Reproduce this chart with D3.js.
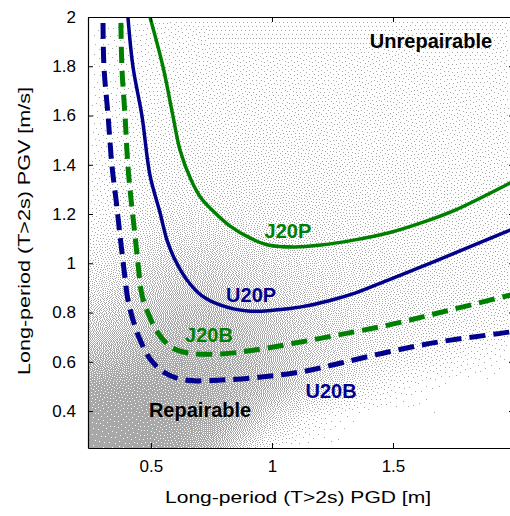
<!DOCTYPE html>
<html>
<head>
<meta charset="utf-8">
<script src="https://cdn.jsdelivr.net/npm/d3@7"></script>
<style>
  html, body { margin: 0; padding: 0; background: #fff; }
  svg { display: block; }
</style>
</head>
<body>
<svg id="chart" width="510" height="516"></svg>
<script>
// ---------------- DATA ----------------
// Fragility boundary curves: PGD [m] vs PGV [m/s]
const u20bX = [0.302, 0.306, 0.323, 0.339, 0.356, 0.372, 0.389, 0.405, 0.426, 0.455, 0.5, 0.558, 0.641, 0.79, 0.955, 1.12, 1.285, 1.48, 1.686, 1.984, 2.0];
const u20bY = [1.976, 1.797, 1.598, 1.395, 1.257, 1.115, 0.973, 0.851, 0.770, 0.689, 0.607, 0.555, 0.526, 0.526, 0.538, 0.559, 0.595, 0.64, 0.68, 0.721, 0.724];

const j20bX = [0.376, 0.38, 0.393, 0.405, 0.418, 0.434, 0.447, 0.463, 0.488, 0.529, 0.583, 0.653, 0.79, 0.93, 1.095, 1.273, 1.48, 1.686, 1.984, 2.0];
const j20bY = [1.976, 1.797, 1.598, 1.395, 1.257, 1.115, 0.993, 0.871, 0.798, 0.717, 0.66, 0.636, 0.632, 0.648, 0.676, 0.709, 0.749, 0.798, 0.871, 0.875];

const u20pX = [0.405, 0.426, 0.463, 0.496, 0.538, 0.566, 0.6, 0.649, 0.707, 0.785, 0.901, 1.013, 1.12, 1.232, 1.343, 1.48, 1.616, 1.757, 1.984, 2.0];
const u20pY = [2.0, 1.797, 1.598, 1.358, 1.204, 1.095, 1.013, 0.932, 0.871, 0.831, 0.806, 0.81, 0.823, 0.847, 0.879, 0.932, 0.985, 1.042, 1.135, 1.142];

const j20pX = [0.496, 0.55, 0.591, 0.62, 0.666, 0.707, 0.761, 0.827, 0.909, 0.984, 1.095, 1.203, 1.343, 1.48, 1.616, 1.757, 1.984, 2.0];
const j20pY = [2.0, 1.797, 1.598, 1.46, 1.338, 1.265, 1.208, 1.151, 1.103, 1.074, 1.066, 1.074, 1.095, 1.123, 1.164, 1.216, 1.326, 1.334];

const seriesNames = ["U20B", "J20B", "U20P", "J20P"];

// Ground-motion record cloud: estimated point density (0..1) on a grid
const densityX = [0.25, 0.375, 0.5, 0.625, 0.75, 0.875, 1.0, 1.125, 1.25, 1.375, 1.5, 1.625, 1.75, 1.875, 2.0];
const densityY = [2.0, 1.875, 1.75, 1.625, 1.5, 1.375, 1.25, 1.125, 1.0, 0.875, 0.75, 0.625, 0.5, 0.375, 0.25];
const density = [
  [.02, .03, .05, .06, .06, .06, .06, .06, .06, .06, .06, .06, .06, .06, .06],
  [.02, .03, .05, .06, .07, .07, .07, .07, .07, .07, .07, .06, .06, .06, .06],
  [.02, .03, .06, .07, .07, .07, .07, .07, .07, .07, .07, .07, .06, .06, .06],
  [.03, .04, .07, .08, .08, .08, .08, .08, .08, .08, .08, .07, .07, .07, .06],
  [.03, .05, .08, .09, .09, .09, .09, .09, .08, .08, .08, .08, .07, .07, .07],
  [.04, .06, .10, .11, .11, .11, .10, .10, .10, .09, .09, .08, .08, .08, .07],
  [.05, .08, .12, .14, .14, .13, .12, .12, .11, .10, .10, .09, .09, .08, .08],
  [.08, .12, .18, .22, .22, .20, .17, .15, .14, .12, .11, .10, .10, .09, .09],
  [.15, .20, .30, .35, .35, .30, .25, .20, .17, .15, .13, .12, .11, .10, .10],
  [.25, .32, .42, .48, .48, .42, .34, .27, .22, .18, .15, .13, .12, .11, .10],
  [.40, .45, .55, .62, .62, .55, .45, .35, .27, .20, .16, .14, .12, .10, .08],
  [.60, .65, .72, .75, .72, .65, .52, .38, .28, .20, .14, .10, .07, .04, .02],
  [.88, .88, .88, .85, .78, .68, .55, .38, .25, .12, .05, .02, .00, .00, .00],
  [.95, .95, .93, .88, .78, .60, .30, .10, .03, .00, .00, .00, .00, .00, .00],
  [.97, .96, .93, .85, .65, .30, .05, .00, .00, .00, .00, .00, .00, .00, .00]
];

const xTickValues = [0.5, 1, 1.5];
const yTickValues = [0.4, 0.6, 0.8, 1, 1.2, 1.4, 1.6, 1.8, 2];
const xTitle = "Long-period (T>2s) PGD [m]";
const yTitle = "Long-period (T>2s) PGV [m/s]";
const regionLabels = ["Unrepairable", "Repairable"];

(function () {
// ---------------- LAYOUT ----------------
const W = 510, H = 516;
const mL = 88, mR = 514, mT = 17, mB = 448;
const x = d3.scaleLinear().domain([0.24, 2.0]).range([mL, mR]);
const y = d3.scaleLinear().domain([0.25, 2.0]).range([mB, mT]);

const svg = d3.select("#chart");
svg.append("rect").attr("width", W).attr("height", H).attr("fill", "#fff");

svg.append("defs").append("clipPath").attr("id", "plotclip")
  .append("rect").attr("x", mL).attr("y", mT).attr("width", mR - mL).attr("height", mB - mT);

// ---------------- DENSITY CLOUD (error-diffusion dithered dots) ----------------
const gx = d3.scaleLinear().domain(d3.extent(densityX)).range([0, densityX.length - 1]).clamp(true);
const gy = d3.scaleLinear().domain([densityY[0], densityY[densityY.length - 1]]).range([0, densityY.length - 1]).clamp(true);
function densityAt(xv, yv) {
  const fx = gx(xv), fy = gy(yv);
  const i0 = Math.min(Math.floor(fx), densityX.length - 1), j0 = Math.min(Math.floor(fy), densityY.length - 1);
  const i1 = Math.min(i0 + 1, densityX.length - 1), j1 = Math.min(j0 + 1, densityY.length - 1);
  const tx = fx - i0, ty = fy - j0;
  const a = density[j0][i0] * (1 - tx) + density[j0][i1] * tx;
  const b = density[j1][i0] * (1 - tx) + density[j1][i1] * tx;
  return a * (1 - ty) + b * ty;
}
const x0 = mL + 1, x1 = Math.min(mR, W), y0 = mT + 1, y1 = mB;
const cw = x1 - x0, ch = y1 - y0;
const field = new Float32Array(cw * ch);
for (let j = 0; j < ch; j++)
  for (let i = 0; i < cw; i++)
    field[j * cw + i] = densityAt(x.invert(x0 + i + 0.5), y.invert(y0 + j + 0.5));

const canvas = document.createElement("canvas");
canvas.width = W; canvas.height = H;
const ctx = canvas.getContext("2d");
const img = ctx.createImageData(W, H);
for (let j = 0; j < ch; j++) {
  const ltr = (j % 2 === 0);
  for (let n = 0; n < cw; n++) {
    const i = ltr ? n : cw - 1 - n;
    const idx = j * cw + i;
    const v = field[idx];
    const on = v >= 0.5 ? 1 : 0;
    const err = v - on;
    const dir = ltr ? 1 : -1;
    if (i + dir >= 0 && i + dir < cw) field[idx + dir] += err * 7 / 16;
    if (j + 1 < ch) {
      if (i - dir >= 0 && i - dir < cw) field[idx + cw - dir] += err * 3 / 16;
      field[idx + cw] += err * 5 / 16;
      if (i + dir >= 0 && i + dir < cw) field[idx + cw + dir] += err * 1 / 16;
    }
    if (on) {
      const k = ((y0 + j) * W + (x0 + i)) * 4;
      img.data[k] = 168; img.data[k + 1] = 168; img.data[k + 2] = 168; img.data[k + 3] = 255;
    }
  }
}
ctx.putImageData(img, 0, 0);
svg.append("image").attr("x", 0).attr("y", 0).attr("width", W).attr("height", H)
  .attr("href", canvas.toDataURL());

// ---------------- CURVES ----------------
const line = d3.line().x(d => x(d[0])).y(d => y(d[1])).curve(d3.curveCatmullRom.alpha(0.5));
const blue = "#00008c", green = "#008000";
const curves = [
  { name: seriesNames[0], xs: u20bX, ys: u20bY, color: blue, dash: "16,8", w: 5 },
  { name: seriesNames[1], xs: j20bX, ys: j20bY, color: green, dash: "16,8", w: 5 },
  { name: seriesNames[2], xs: u20pX, ys: u20pY, color: blue, dash: null, w: 3.5 },
  { name: seriesNames[3], xs: j20pX, ys: j20pY, color: green, dash: null, w: 3.5 }
];
const cg = svg.append("g").attr("clip-path", "url(#plotclip)");
curves.forEach(c => {
  cg.append("path")
    .datum(c.xs.map((v, i) => [v, c.ys[i]]))
    .attr("d", line)
    .attr("fill", "none")
    .attr("stroke", c.color)
    .attr("stroke-width", c.w)
    .attr("stroke-dasharray", c.dash)
    .attr("stroke-linecap", "butt")
    .attr("stroke-linejoin", "round");
});

// ---------------- AXES ----------------
const font = "'Liberation Sans', Arial, sans-serif";
const axG = svg.append("g");
const xBottom = d3.axisBottom(x).tickValues(xTickValues).tickSizeInner(-5).tickSizeOuter(0).tickPadding(12).tickFormat(d3.format("~g"));
const xTop = d3.axisTop(x).tickValues(xTickValues).tickSizeInner(-5).tickSizeOuter(0).tickFormat("");
const yLeft = d3.axisLeft(y).tickValues(yTickValues).tickSizeInner(-5).tickSizeOuter(0).tickPadding(12).tickFormat(d3.format("~g"));
const yRight = d3.axisRight(y).tickValues(yTickValues).tickSizeInner(-5).tickSizeOuter(0).tickFormat("");

function styleAxis(g) {
  g.select(".domain").attr("stroke", "#000").attr("stroke-width", 1.2);
  g.selectAll(".tick line").attr("stroke", "#000");
  g.selectAll(".tick text").attr("fill", "#000").style("font-family", font).style("font-size", "17px");
}
axG.append("g").attr("transform", `translate(0,${mB})`).call(xBottom).call(styleAxis);
axG.append("g").attr("transform", `translate(0,${mT})`).call(xTop).call(styleAxis);
axG.append("g").attr("transform", `translate(${mL},0)`).call(yLeft).call(styleAxis);
axG.append("g").attr("transform", `translate(${mR},0)`).call(yRight).call(styleAxis);

// Axis titles
svg.append("text")
  .attr("x", 298).attr("y", 503)
  .attr("text-anchor", "middle")
  .attr("textLength", 266).attr("lengthAdjust", "spacingAndGlyphs")
  .style("font-family", font).style("font-size", "16px").attr("fill", "#000")
  .text(xTitle);
svg.append("text")
  .attr("transform", "translate(30,231) rotate(-90)")
  .attr("text-anchor", "middle")
  .attr("textLength", 288).attr("lengthAdjust", "spacingAndGlyphs")
  .style("font-family", font).style("font-size", "16px").attr("fill", "#000")
  .text(yTitle);

// ---------------- ANNOTATIONS ----------------
const annotations = [
  { text: regionLabels[0], at: [1.657, 1.874], color: "#000" },
  { text: regionLabels[1], at: [0.703, 0.376], color: "#000" },
  { text: seriesNames[3], at: [1.066, 1.103], color: green },
  { text: seriesNames[2], at: [0.914, 0.843], color: blue },
  { text: seriesNames[1], at: [0.74, 0.68], color: green },
  { text: seriesNames[0], at: [1.244, 0.453], color: blue }
];
svg.append("g").selectAll("text").data(annotations).join("text")
  .attr("x", d => x(d.at[0])).attr("y", d => y(d.at[1]))
  .attr("text-anchor", "middle")
  .style("font-family", font).style("font-size", "20px").style("font-weight", "bold")
  .attr("fill", d => d.color)
  .text(d => d.text);
})();
</script>
</body>
</html>
